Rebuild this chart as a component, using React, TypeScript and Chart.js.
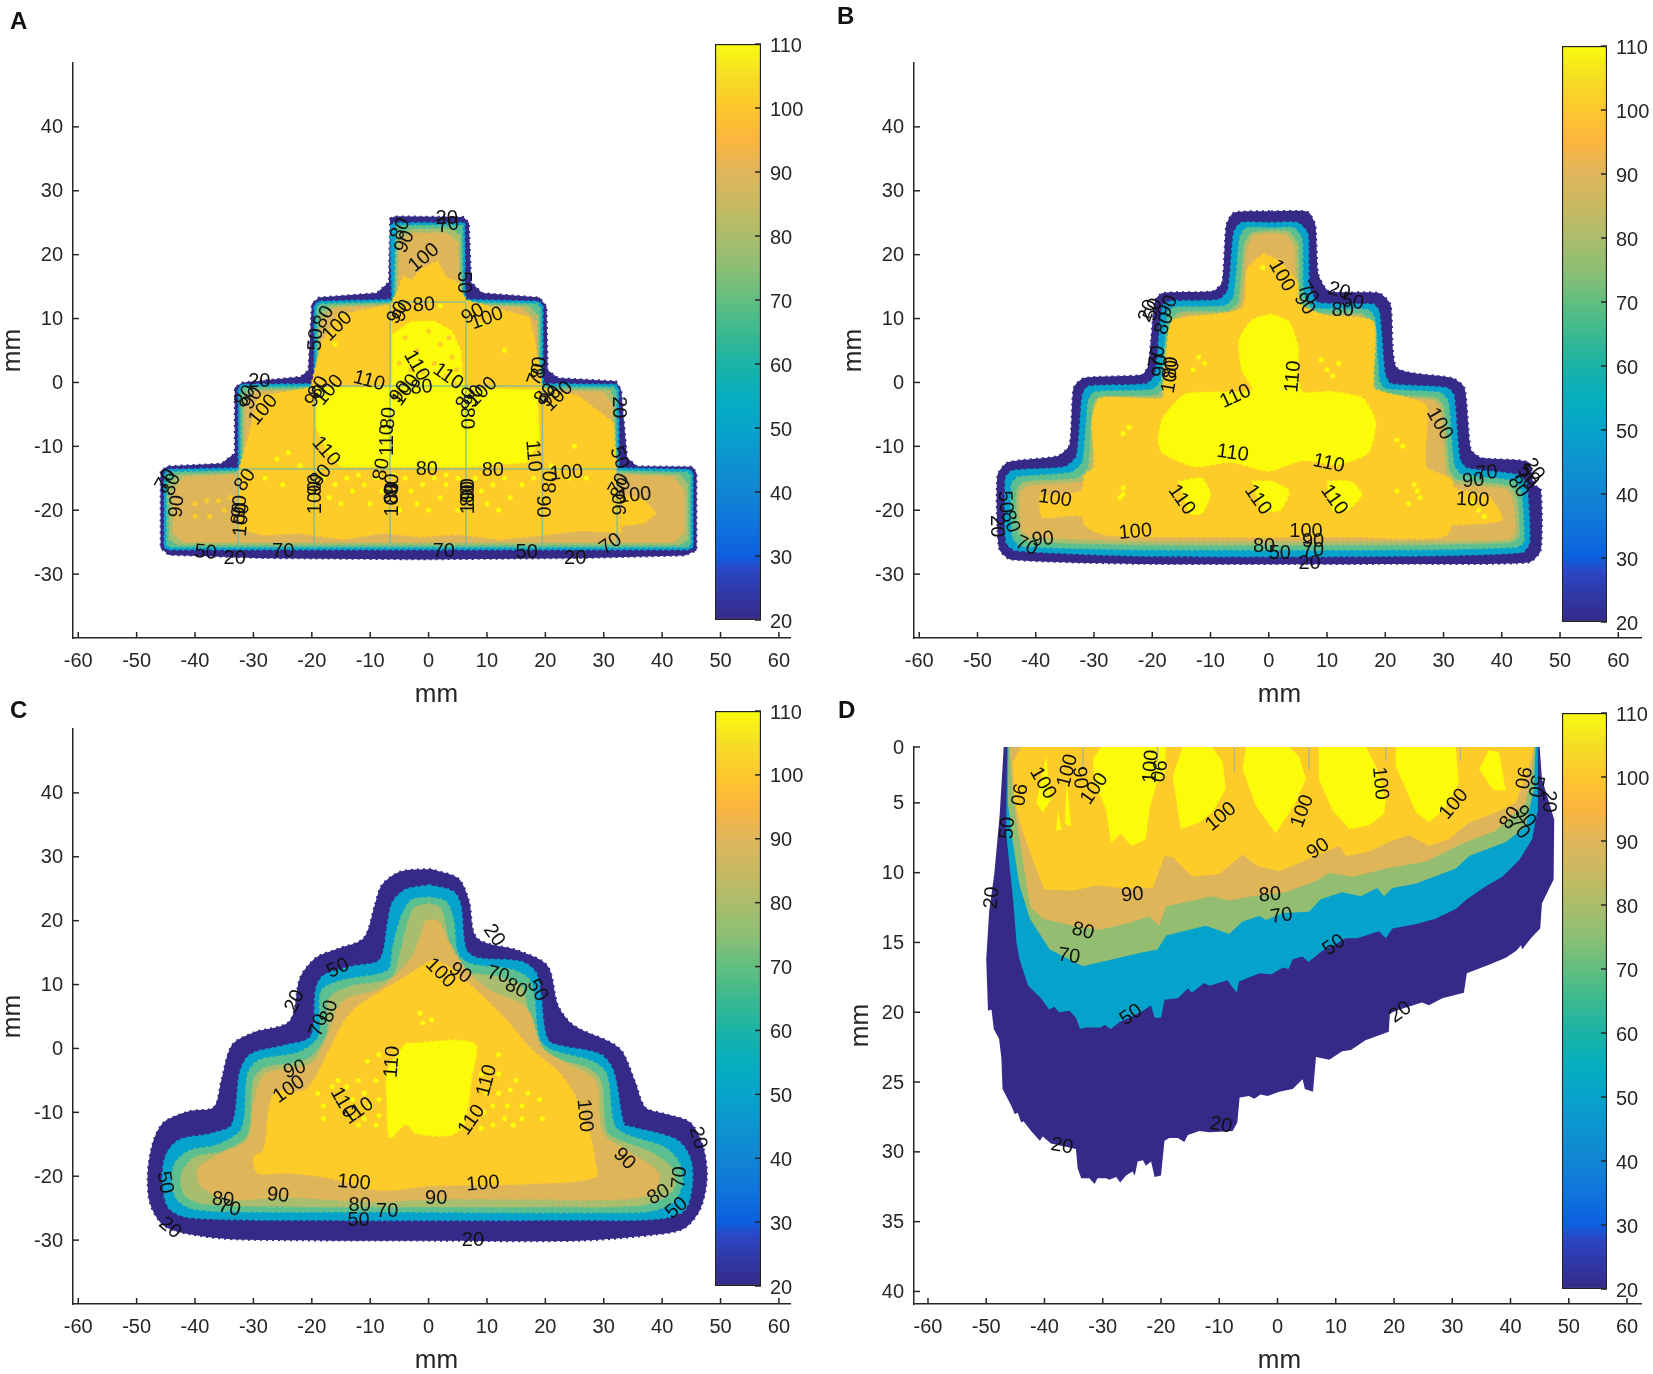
import React, { useEffect, useRef } from "react";
import { Chart, registerables } from "chart.js";

Chart.register(...registerables);

type Pts = number[][];
type Lab = [string, number, number, number];

const FONT = "'Liberation Sans', Arial, sans-serif";
const INK = "#262626";

const xTicks = [-60, -50, -40, -30, -20, -10, 0, 10, 20, 30, 40, 50, 60];
const yTicksABC = [-30, -20, -10, 0, 10, 20, 30, 40];
const yTicksD = [1, 5, 10, 15, 20, 25, 30, 35, 40];
const colourTicks = [20, 30, 40, 50, 60, 70, 80, 90, 100, 110];

const colourValues = [20, 25, 28, 30, 35, 40, 45, 50, 55, 60, 65, 70, 75, 80, 85, 90, 95, 100, 105, 110];
const colourStops = ["#352a87", "#2f3bac", "#2a48c8", "#0d5fdf", "#0f74dc", "#1185d3", "#0d94cf", "#06a4ca", "#06aebf", "#1ab3a6", "#3bb990", "#62be7f", "#8cbf74", "#abbd6b", "#c8b961", "#dfb65c", "#fbb53e", "#fdc72d", "#f5de23", "#f9fb0e"];

const DARK = "#352a87";
const CYAN = "#05a3cc";
const GREEN = "#5cbf90";
const OLIVE = "#a9bd6e";
const TAN = "#dfb55a";
const GOLD = "#fdcc29";
const BRIGHT = "#fbfb0a";
const SAGE = "#93bd70";

/* ---------- panel A ---------- */
const A20: Pts = [[-6.6,25.7],[-5.7,26],[6,25.9],[6.9,25],[7.3,15.7],[9.2,14],[19,13.3],[20.2,11.9],[20.4,1.9],[22.2,.7],[32.1,.2],[33,-1.2],[34,-11.8],[35.7,-13.1],[45.2,-13.2],[45.9,-14.2],[45.9,-26.3],[43.9,-27.1],[25.8,-27.5],[-1.2,-27.7],[-28.3,-27.5],[-44.5,-27],[-45.9,-25.9],[-45.9,-13.9],[-44.7,-13.1],[-35.5,-12.7],[-33.2,-11.1],[-33.2,-.8],[-31.9,0],[-21.9,.9],[-20.6,1.9],[-20,12.3],[-18.8,13.3],[-8.9,14],[-6.8,15.7]];
const A50: Pts = [[-6,25],[6.2,25],[6.3,13],[18.8,12.7],[19.6,12],[19.6,-.2],[32,-.3],[32.6,-1],[32.6,-13.4],[44.6,-13.6],[45.3,-14.2],[45.3,-25.7],[44.6,-26.2],[-44.6,-26.2],[-45.3,-25.7],[-45.3,-14.2],[-44.6,-13.6],[-32.6,-13.4],[-32.6,-1],[-32,-.3],[-19.6,-.2],[-19.6,12],[-18.8,12.7],[-6.3,13],[-6.6,24.4]];
const A70: Pts = [[-5.6,24.6],[5.8,24.6],[5.9,12.6],[18.6,12.3],[19.2,11.6],[19.2,-.6],[31.8,-.7],[32.2,-1.4],[32.2,-13.8],[44.4,-14],[44.9,-14.6],[44.9,-25.3],[44.3,-25.8],[-44.3,-25.8],[-44.9,-25.3],[-44.9,-14.6],[-44.4,-14],[-32.2,-13.8],[-32.2,-1.4],[-31.8,-.7],[-19.2,-.6],[-19.2,11.6],[-18.6,12.3],[-5.9,12.6]];
const A80: Pts = [[-5.4,23],[-3,24],[4,24],[5.4,23],[5.6,12.3],[17,12],[18.8,10.5],[18.9,-1],[31,-1.1],[31.8,-2.5],[31.9,-14.1],[43,-14.4],[44.4,-16],[44.5,-24.5],[43,-25.4],[-43,-25.4],[-44.4,-24.5],[-44.5,-16],[-43,-14.4],[-31.9,-14.1],[-31.8,-2.5],[-31,-1.1],[-18.9,-1],[-18.8,10.5],[-17,12],[-5.6,12.3]];
const A90: Pts = [[-5,22],[-3,23.4],[3,23.4],[5,22],[5.3,12],[16,11.7],[18.5,9.5],[18.6,-1.3],[30,-1.4],[31.4,-3.5],[31.6,-14.4],[42,-14.8],[43.8,-17],[43.8,-23.5],[42,-25],[-42,-25],[-43.8,-23.5],[-43.8,-17],[-42,-14.8],[-31.6,-14.4],[-31.4,-3.5],[-30,-1.4],[-18.6,-1.3],[-18.5,9.5],[-16,11.7],[-5.3,12]];
const A100: Pts = [[-4.4,16.7],[-3,16],[-1.2,17.8],[1.5,19],[3,16.5],[5.1,15.7],[6.4,12.9],[17.3,10.2],[18.4,5.4],[19.5,-.8],[25.8,-2.2],[31.7,-6.3],[32.2,-13.2],[32.6,-18],[33,-23.5],[26,-23.2],[19.5,-23.9],[12.3,-24.6],[5,-23.8],[-1.2,-24.2],[-8,-23.6],[-14.7,-24.6],[-22,-23.6],[-28.3,-23.9],[-32.6,-22.9],[-32.6,-13.9],[-31,-9.1],[-29.2,-2.2],[-20.2,-.8],[-18.4,6],[-15.6,10.5],[-6.6,12.2],[-5.3,14.3]];
const A100right: Pts = [[33,-17.5],[37,-18.5],[39,-20.5],[37,-22],[33,-22.5]];
const A110: Pts = [[-19.2,-.8],[-6.4,-.8],[-6.2,1],[-6.2,7.5],[-3,9.5],[1,9.6],[4,8],[5.5,5],[5.8,1],[6.3,-.8],[18.6,-1.2],[19,-9],[17,-12.5],[8,-13.2],[-15,-13.2],[-17,-11.5],[-19.2,-7]];
const AspotsBright: Pts = [[-18,-15],[-16,-16],[-14,-15],[-13,-17],[-11,-16],[-9,-15],[-8,-17],[-4,-15],[-3,-17],[-1,-16],[1,-15],[2,-18],[3,-16],[5,-15],[8,-15],[9,-17],[11,-16],[13,-15],[14,-18],[16,-16],[18,-15],[-15,-19],[-10,-19],[-5,-20],[0,-20],[5,-20],[10,-19],[-12,-14.5],[-6,-14.5],[3,-14.5],[-2,-19],[7,-18],[12,-20],[-17,-18],[-28,-15],[-25,-16],[27,-15],[24,-15],[-26,-12],[-24,-11],[25,-10],[-16,6],[-5,12],[2,12],[9,9],[13,5],[-22,-13],[21,-13]];
const AspotsGold: Pts = [[-4,7],[-2,5],[2,6],[4,4],[-3,2],[3,1],[0,8],[-5,3],[1,3],[3.5,7],[4.8,2],[-1,1.5],[-4.5,-.2],[4.5,-.2],[-40,-19],[-38,-18.5],[-36,-18.5],[-35,-20],[-37.5,-21],[-34,-18],[-33.5,-21],[-40,-21]];
const Aseams: Pts[] = [[[-32.6,-13.5],[-32.6,-26]],[[-19.6,-.5],[-19.6,-26]],[[-6.6,12.6],[-6.6,-26]],[[6.4,12.6],[6.4,-26]],[[19.5,-.5],[19.5,-26]],[[32.3,-13.5],[32.3,-26]],[[-6.6,12.6],[6.4,12.6]],[[-19.6,-.55],[19.5,-.55]],[[-32.6,-13.55],[32.3,-13.55]]];
const Alabels: Lab[] = [["20",3.1,25.7,0],["70",3.3,24.6,-10],["80",-4.8,24,-65],["90",-4.1,22,-65],["100",-.8,19.5,-40],["50",6,15.7,90],["90",-5.3,10.9,-60],["90",-4.4,11.2,-60],["80",-.8,12.1,-5],["90",7.6,10.7,-30],["100",10,10,-20],["80",-17.9,10.2,-60],["100",-15.6,8.8,-45],["50",-19.3,6.7,-85],["80",-18.8,-.8,-60],["90",-19.3,-2.2,-50],["100",-17,-1.2,-50],["20",-29,.2,0],["80",-31.4,-2.2,-55],["90",-30.2,-2.5,-55],["100",-28.3,-4.3,-50],["110",-10.2,.2,15],["110",-2.1,2.6,60],["110",3.3,.9,35],["80",-1.2,-.8,-5],["90",-4.8,-1.5,-55],["100",-3.9,-1.2,-55],["80",6.5,-2.5,-60],["90",7.8,-2.2,-60],["100",9.2,-1.5,-45],["80",6.5,-5.6,90],["80",-6.8,-5.6,-85],["110",-7.1,-9,-90],["110",-17.6,-10.8,50],["80",-.3,-13.6,0],["80",11,-13.8,0],["110",17.9,-11.5,85],["100",23.6,-14.2,-5],["80",20.9,-15.6,-85],["90",19.5,-19.4,90],["50",32.6,-11.8,70],["20",32.6,-3.9,90],["70",18.6,1.2,-70],["80",19,2.3,-85],["80",20,-1.9,-45],["90",20.9,-2.2,-45],["100",22.2,-2.2,-45],["80",-31.4,-15.3,-55],["90",-32.3,-19.4,-85],["80",-32.4,-20.5,-85],["100",-32,-21.5,-85],["80",-18.4,-14.6,-50],["90",-19.3,-16,-90],["100",-19.3,-18,-90],["80",-8,-13.6,-80],["90",-6.2,-16,-85],["80",-6.2,-17.3,-85],["100",-6.2,-18.4,-90],["90",6.9,-16.7,-90],["80",6.9,-17.7,-90],["100",6.9,-18,-90],["90",-43.1,-19.4,-85],["80",-44,-16,-70],["70",-45,-15.3,-60],["50",-38.2,-26.6,5],["20",-33.2,-27.5,0],["70",-24.9,-26.4,0],["70",2.6,-26.4,0],["50",16.8,-26.6,0],["20",25.1,-27.5,0],["70",31.2,-25.3,-35],["100",35.3,-17.7,-5],["90",32.9,-19.1,-90],["80",33,-16.7,-60],["70",32.6,-16,-60]];

/* ---------- panel B ---------- */
const B20: Pts = [[.4,26.8],[6.7,26.7],[8,24.6],[8.5,17],[10.3,14.3],[18.9,14],[20.9,12.2],[22,2.3],[31.5,.7],[33.6,-.8],[34.7,-10.5],[36.5,-11.8],[44.6,-12.5],[45.5,-16],[46.7,-16.7],[46.7,-26.3],[44.6,-28.2],[23.4,-28.4],[-21.8,-28.4],[-44.4,-27.7],[-46.3,-26],[-46.6,-14.6],[-44.8,-12.5],[-36.2,-11.5],[-34.2,-9.8],[-33.5,-.8],[-31.7,.7],[-21.8,1.2],[-20.7,2.6],[-19.5,12.9],[-18.2,14],[-9.6,14.3],[-8,15.7],[-7.3,24.6],[-6,26.6]];
const B50: Pts = [[.4,25],[5,25],[6.7,23.3],[7,15],[8.5,12.5],[18,12.2],[19,11],[20,1.2],[21,-.2],[30.5,-.8],[31.8,-2],[32.8,-12],[34,-13.4],[43,-14.5],[44.3,-16],[44.8,-25],[43.5,-26.6],[23,-27.2],[-21,-27.2],[-43.5,-26.3],[-45.1,-25],[-45.2,-15],[-44,-13.8],[-35,-13.2],[-33,-11.5],[-32,-2],[-31,-.6],[-21,-.2],[-19.5,1.2],[-18.3,12],[-17,12.7],[-8.5,13],[-7,14.5],[-6,23.5],[-4.8,25]];
const B70: Pts = [[.4,24.2],[4.3,24.2],[5.7,22.5],[6,14],[7.5,11.7],[17,11.4],[18.2,10],[19,.3],[20,-1],[29.5,-1.6],[30.8,-3],[31.8,-12.8],[33,-14.4],[42,-15.4],[43.3,-17],[43.8,-24.8],[42.5,-25.8],[23,-26.2],[-21,-26.2],[-42.5,-25.6],[-44,-24.2],[-44.2,-16],[-43,-14.8],[-34,-14.1],[-32,-12.5],[-31,-3],[-30,-1.5],[-20,-1.1],[-18.5,.3],[-17.3,11],[-16,11.8],[-7.5,12],[-6,13.5],[-5,22.6],[-3.8,24.2]];
const B80: Pts = [[.4,23.8],[3.5,23.6],[5,21.5],[5.3,13.5],[6.8,11],[16,10.7],[17.4,9.2],[18.2,-.4],[19.2,-1.8],[28.7,-2.4],[30,-3.8],[31,-13.5],[32.2,-15.2],[41.2,-16.2],[42.5,-17.8],[43,-24],[41.5,-25],[23,-25.4],[-21,-25.4],[-41.5,-24.8],[-43,-23.4],[-43.3,-17],[-42,-15.6],[-33,-15],[-31,-13.4],[-30.2,-3.8],[-29.2,-2.3],[-19.2,-2],[-17.7,-.6],[-16.5,10],[-15.2,11],[-7,11.2],[-5.2,12.6],[-4.2,21.6],[-3,23.4]];
const B90: Pts = [[.4,23.4],[3,23],[4.4,21],[4.8,13],[6,10.6],[15.5,10.3],[17,8.6],[17.8,-.8],[19,-2.2],[28.2,-2.8],[29.5,-4.2],[30.4,-14],[31.5,-15.8],[40.5,-16.6],[41.8,-18.2],[42.3,-23.6],[41,-24.6],[23,-24.8],[-21,-24.8],[-41,-24.2],[-42.4,-23],[-42.7,-17.4],[-41.3,-16.2],[-32.4,-15.6],[-30.4,-14],[-29.6,-4.2],[-28.6,-2.9],[-18.6,-2.5],[-17,-1],[-16,9.4],[-14.5,10.5],[-6.5,10.8],[-4.7,12.2],[-3.7,21],[-2.5,23]];
const B100: Pts = [[-1,20.2],[-3.7,17.8],[-4.6,11.6],[-16.4,9.8],[-17.3,7.4],[-18.2,-.8],[-18.2,-2.5],[-29,-2.5],[-30.4,-6.3],[-29.9,-13.2],[-31.7,-14.6],[-31.7,-22.2],[-28,-23.9],[-12.7,-24.2],[14.4,-24.2],[30.6,-23.9],[31.5,-15.3],[27,-13.2],[27,-3.6],[19.8,-1.5],[18,-.8],[18,9.5],[9.8,10.5],[5.3,12.3],[4.9,15.7],[1.7,19.1]];
const B100left: Pts = [[-39.4,-17.7],[-33.5,-17.3],[-31,-17],[-31,-21],[-33.5,-20.8],[-38.9,-21.1]];
const B100right: Pts = [[31,-16],[32.4,-16.7],[37.9,-18],[40.1,-21.5],[35,-22.2],[31,-22]];
const B110: Pts = [[.4,10.7],[3.5,9.5],[5.1,5.4],[4.9,1.9],[5.8,-1.5],[10.7,-1.4],[16.2,-2.5],[18.4,-6.3],[17,-11.1],[11.7,-12.9],[5.8,-12.2],[-.1,-13.9],[-6.4,-12.5],[-12.7,-13.2],[-18.2,-11.1],[-19,-9.1],[-18.2,-5.6],[-14.5,-1.9],[-10,-1.5],[-2.8,-1.2],[-4.6,1.9],[-5.1,6.7],[-2.8,9.8]];
const B110a: Pts = [[-15.5,-15.5],[-11.5,-15],[-10,-17.5],[-11.5,-20.5],[-13.5,-20.5]];
const B110b: Pts = [[-2.8,-15.5],[.6,-15.5],[3.5,-17],[2,-20],[-1,-20]];
const B110c: Pts = [[10,-15.5],[14,-15.5],[16,-17.5],[13.5,-20],[11,-20]];
const BspotsBright: Pts = [[-25,-16.5],[-25,-17.5],[-25.5,-18],[22,-17],[25,-16],[25.5,-17],[26,-18],[24,-19],[35,-19],[36,-20],[37,-21],[12,3],[10,2],[11,1],[9,3.5],[-12,4],[-11,3],[-13,2],[22,-9],[23,-10],[-25,-8],[-24,-7],[-1,18]];
const Blabels: Lab[] = [["100",2.2,16.7,60],["70",6.7,14,55],["90",6.1,12.3,55],["20",12.1,14.3,15],["50",14.4,12.6,10],["80",12.7,11.2,0],["20",-20.7,11.2,-70],["50",-19.8,11.4,-70],["90",-17.3,11.9,-65],["80",-17.9,9.2,-70],["70",-19.1,4,-80],["90",-18.6,2.6,-85],["80",-16.8,2.3,-85],["100",-16.8,.9,-80],["110",4.2,.9,-85],["110",-5.7,-2.2,-25],["100",29.3,-6.5,60],["110",-6.2,-11.1,8],["110",10.3,-12.7,12],["70",37.4,-14.2,-5],["90",35.1,-15.4,-5],["100",35,-18.4,3],["20",45.5,-13.6,55],["50",44.6,-14.6,45],["70",44,-15.2,50],["80",42.8,-16.3,55],["100",-36.7,-18.2,8],["110",-15,-18.4,55],["110",-1.9,-18.4,55],["110",11.2,-18.4,55],["50",-45.3,-18.7,85],["80",-44.4,-21.8,70],["20",-46.8,-22.5,90],["90",-38.8,-24.6,-5],["70",-41.6,-25.6,25],["100",-22.9,-23.4,-5],["100",6.4,-23.4,0],["90",7.6,-24.9,0],["70",7.6,-26.3,0],["80",-.8,-25.7,0],["50",1.9,-26.8,0],["20",7,-28.4,0]];

/* ---------- panel C ---------- */
const C20: Pts = [[.4,28.1],[-4.8,27.7],[-8,25.6],[-9.2,22.5],[-11.1,17.3],[-15.6,15.6],[-19.3,14.2],[-22,11.1],[-23.8,4.3],[-30,2.5],[-33.7,.5],[-35.5,-5],[-36.8,-9.2],[-40.9,-9.8],[-45.4,-11.6],[-47.2,-14.7],[-48.1,-19.5],[-47.7,-24.3],[-45.4,-27.7],[-40.9,-29.1],[-32.8,-29.9],[.6,-30.1],[25.8,-30.1],[39.4,-29.1],[43.9,-28.1],[46.6,-25],[47.7,-20.2],[47,-15.3],[44.8,-11.6],[40.3,-10.2],[37.1,-9.2],[35.3,-5],[32.6,.1],[24.9,3.6],[22.2,6.7],[20.4,12.9],[15.5,15.3],[8.3,17.3],[6.9,23.2],[5.1,26.6]];
const C50: Pts = [[.1,25.6],[-3.9,24.9],[-6.2,22.9],[-7,19.8],[-8.4,13.9],[-12.9,12.9],[-17.9,11.5],[-19.3,9.4],[-20.2,1.9],[-24.7,.5],[-30.5,-.9],[-32.3,-3.6],[-33.7,-11.9],[-37.3,-13.3],[-42.7,-14.3],[-45,-16.7],[-45.6,-20.9],[-44.5,-25],[-40.9,-26.5],[-19.3,-26.9],[25.8,-26.9],[39.4,-26.7],[43.9,-25.3],[45.2,-20.9],[44.8,-17.1],[42.5,-14.3],[34.9,-12.3],[33.5,-11.9],[31.7,-3.6],[29.4,-.9],[21.1,.8],[20,2.5],[18.6,11.5],[15.9,13.6],[8.3,14.2],[6.4,15.6],[5.5,22.5],[4.2,24.6]];
const C70: Pts = [[.1,23.7],[-3,23.2],[-4.8,20.4],[-6.2,15.6],[-7,12.2],[-14.7,10.7],[-18.4,9],[-18.8,2],[-22,-.5],[-29,-1.8],[-31,-4],[-32,-12.5],[-36,-15],[-41,-16],[-43.5,-18],[-44,-21],[-43,-23.8],[-40,-25.2],[-30,-25.6],[-10,-25.6],[10,-25.7],[30,-25.7],[38,-25.5],[42,-24],[43.5,-21],[43,-18],[40.5,-15.5],[34,-13.5],[31.8,-12],[30.5,-4],[28,-2],[21,-.2],[19,1.5],[17.5,10.5],[14,12.4],[7,13.3],[5,15],[4.3,20],[3,23]];
const C80: Pts = [[.1,22.7],[-2.5,22],[-3.8,19],[-5,14.5],[-6.5,11],[-13.5,9.7],[-17,7.8],[-17.5,2],[-21,-1.8],[-28,-3],[-30,-5],[-31,-13.5],[-35,-16],[-40,-17],[-42,-19],[-42.5,-21],[-41.5,-23.2],[-38,-24.4],[-20,-24.8],[0,-24.8],[20,-24.8],[36,-24.6],[41,-23],[42.3,-21],[41.5,-18.5],[38,-16.2],[33,-14.5],[30.5,-13],[29.5,-5],[27,-3],[20,-1.2],[18,1],[16,9.5],[12,11.2],[6.5,12],[4,14],[3,19],[2,22]];
const C90: Pts = [[-.5,20],[-3,14.2],[-8.4,9.4],[-14.7,7.4],[-17.4,1.9],[-20,-2.3],[-28,-4],[-30,-9],[-31,-14.3],[-35.5,-16.4],[-39.5,-18.8],[-39,-21.5],[-34.6,-23.6],[-24.6,-23.3],[-10,-24],[.6,-23.6],[16.8,-23.6],[33,-23.6],[38.5,-22.6],[39.4,-19.5],[34,-16],[29.9,-13.3],[28.5,-5],[23.6,-2.3],[19.5,.1],[16.8,6.3],[10,9.4],[6,12.9],[3.3,17],[1.5,20]];
const C100: Pts = [[.6,13.9],[-4.8,10.8],[-12,6.7],[-14.7,3.9],[-17,-.2],[-21,-6.4],[-26.5,-7.1],[-28.3,-16],[-30,-17],[-29.2,-19.5],[-24.7,-19.5],[-17.4,-20.2],[-8.4,-22.2],[.6,-21.5],[16.8,-21.2],[28.5,-20.2],[28.5,-17.5],[27.6,-13.3],[24.9,-7.1],[22.2,-3.6],[17.7,-.2],[13.2,4.6],[7.8,9.4],[3.3,12.9]];
const C110: Pts = [[-3.9,.8],[7.8,.8],[7.3,-5],[6,-11.9],[3.7,-13.6],[-2.1,-13.3],[-3.9,-11.9],[-6.6,-14],[-7.1,-8.5],[-7.1,-3.6],[-4.8,-.2]];
const CspotsBright: Pts = [[-1.5,5.5],[.5,4.5],[-1,4],[-19,-7],[-18,-9],[-18,-11],[-16.5,-6],[-15.5,-5],[-10.5,-2],[-8.5,-1],[12,-1],[12,-4],[15,-5],[16,-9],[17,-7],[16,-11],[19,-8],[19.5,-11],[13,-11],[-14,-6],[-13,-8],[-12,-5],[-11,-7],[-10,-9],[-9,-5],[-8.5,-8],[-13,-11],[-11,-11],[-9,-12],[-8.5,-10.5],[-12,-12],[9,-4],[10,-7],[9.5,-10],[11,-9],[12,-7],[13.5,-9],[14,-6.5],[11,-12],[9,-12.5],[14.5,-12]];
const Clabels: Lab[] = [["20",11.2,17.7,55],["50",-15.5,12.5,-25],["100",2,11.8,45],["90",5.4,11.8,35],["70",11.9,11.5,15],["80",15,9.4,25],["50",18.6,9.1,60],["20",-22.9,7.4,-65],["80",-17,5.8,-75],["70",-18.8,3.6,-70],["110",-6.2,-2.1,-85],["90",-22.9,-3.3,-20],["100",-23.9,-6.4,-35],["110",10,-5,-75],["110",-14.7,-8.5,60],["110",-12,-9.8,-35],["100",26.7,-10.5,85],["110",7.4,-11.2,-55],["20",46.1,-14,75],["90",33.5,-17.3,45],["50",-45.2,-21,80],["70",43,-20.2,-85],["100",-12.8,-21,5],["100",9.3,-21.2,-5],["80",39.4,-22.9,-30],["90",-25.8,-23,5],["90",1.3,-23.5,0],["80",-35.2,-23.7,5],["70",-34.1,-25,15],["80",-11.8,-24.6,0],["70",-7.1,-25.5,0],["50",-12,-26.9,0],["50",42.5,-25,-40],["20",-44.3,-28.1,40],["20",7.6,-30.1,0]];

/* ---------- panel D ---------- */
const D20: Pts = [[-47,1],[-47.7,5.9],[-48.6,10],[-49.5,12.8],[-50,16.2],[-49.7,19.9],[-49.1,19.8],[-48.7,21.2],[-47.8,21.9],[-47.4,23.3],[-47.2,25.5],[-45.7,26.7],[-45.1,27.3],[-44.6,27.2],[-44,27.9],[-43.6,27.8],[-42.3,28.5],[-40.8,29.2],[-40.3,28.9],[-38.9,29.4],[-34.6,29.8],[-34.3,31.2],[-33.7,31.9],[-32.3,31.9],[-31.4,32.3],[-30.9,31.9],[-29.4,31.9],[-28.9,32],[-27.7,31.8],[-27,32.2],[-26,31.7],[-24.9,31.4],[-24.5,31.7],[-24,30.7],[-23.1,30.6],[-22.6,31],[-21.7,30.7],[-21.1,31.8],[-20,31.7],[-19.4,29.2],[-18.6,29],[-17.1,29],[-16,29.3],[-15.4,28.8],[-13.4,28.5],[-11.7,28.6],[-7.7,28.5],[-6.9,27.9],[-6.5,26.1],[-4.9,26],[-4,26.2],[-2.9,25.9],[-1.7,26],[.3,25.7],[2.6,25.5],[4.3,24.8],[4.7,25.5],[6.1,25.7],[6.6,23.2],[8.9,23.4],[11.1,22.8],[12.6,22.7],[15.1,22],[19.1,21.4],[19.3,20.1],[20.3,19.9],[24.8,19.3],[26,19.5],[28.3,19],[32,18.6],[32.5,17.2],[36.3,16.6],[39.2,16.1],[41,15.6],[41.8,15.2],[42,15.5],[43.5,14.7],[45.1,14],[45.4,12.2],[47.4,10.5],[47.5,6.2],[45.4,3.3],[45,1]];
const D50: Pts = [[-46.4,1],[-46.6,7.1],[-45.4,11.9],[-44.8,15],[-44.3,16.2],[-42.8,18.1],[-40.6,19],[-39.2,19.8],[-38.3,19.6],[-37.5,20],[-35.7,19.9],[-34.6,20.4],[-33.9,21.2],[-32.9,21.1],[-31.6,21.1],[-30.3,21.1],[-29.7,20.9],[-28.6,21.2],[-27.1,20.7],[-25.4,20.4],[-23.1,19.9],[-21.7,19.5],[-21.1,20.4],[-20,20.4],[-19.4,19.1],[-17.1,19],[-15.4,18.3],[-14.7,18.6],[-12.6,17.9],[-11.7,18.1],[-8.6,17.7],[-7,18.6],[-6.6,17.8],[-3.1,17.2],[-1.1,17.3],[.9,16.8],[1.9,16.9],[2.6,16.2],[4.3,16],[5.3,16.4],[7.7,15.6],[9.7,15.2],[11.7,14.7],[13.7,14.7],[17.4,14.2],[18.6,14.7],[19.7,14],[23.7,13.7],[27.1,13.3],[30.6,12.6],[32.5,11.9],[35.7,11],[38.6,10.3],[41.5,9.1],[43.7,7.6],[44.6,5.7],[44.7,1]];
const D70: Pts = [[-46.2,1],[-46.3,5],[-45.4,7.9],[-44.3,10.9],[-42.5,13.3],[-39.1,15.5],[-33.4,16.7],[-27.2,16.1],[-23.1,15.7],[-20.6,15.5],[-19.1,14.5],[-12.3,13.8],[-8.3,14.4],[-6,13.5],[-3.1,13.1],[-2,13.4],[.9,12.9],[5.4,12.8],[7.4,11.9],[11.1,11.4],[14.3,11.7],[17.1,11.1],[18.3,11.7],[19.7,11.1],[23.7,10.8],[30.6,9.7],[32.9,8.8],[39.2,7.8],[42.6,6.7],[44,4],[44.3,1]];
const D80: Pts = [[-46,1],[-45.5,4],[-44.5,7.1],[-44,8.3],[-42.5,12.4],[-40.3,13.3],[-35.1,13.8],[-30.5,14.1],[-25.5,13.6],[-22,13.1],[-20.3,13.8],[-19.1,12.4],[-11.2,11.7],[-8.3,12],[-4.3,11.7],[1.4,11.4],[6.6,10.6],[8.9,10],[12.9,10.3],[18.7,9.7],[25.5,9.2],[32.3,7.8],[37.5,7],[42.6,5],[43.6,3],[44.1,1]];
const D90: Pts = [[-44,1],[-45.4,2.1],[-45.2,4.8],[-43.7,7.1],[-42,9.1],[-40,11.2],[-35.1,11.3],[-31.1,10.9],[-27.1,11.1],[-21.4,11.1],[-19.4,8.8],[-18,8.9],[-14.6,10.3],[-10,10.1],[-6,8.7],[-3.6,9.5],[.3,9.9],[4.9,9.1],[10.6,8.1],[11.8,8.8],[15.7,8.5],[19.1,7.8],[22.6,7.3],[26,8.1],[29.4,7.6],[32.9,6.4],[37.5,5.7],[40.9,5],[43.2,2.4],[44,1]];
const D100a: Pts = [[-30.3,1],[-31.7,1.9],[-31.4,3.6],[-29.4,5.5],[-28.6,7.9],[-26.9,7.2],[-25.1,8.1],[-22.6,7.6],[-22,5.5],[-20.9,3.8],[-19.2,2.7],[-19.2,1]];
const D100b: Pts = [[-16.3,1],[-18,3.1],[-16.6,6.9],[-13.4,6.4],[-11.2,5.7],[-8.9,4],[-9.4,2.1],[-11.2,1]];
const D100c: Pts = [[-5.4,1],[-6,2.6],[-3.7,5.2],[-.3,7.2],[3.1,5],[4.9,3.3],[3.7,1.7],[2,1]];
const D100d: Pts = [[7.1,1],[7.1,3.3],[9.4,5.5],[12.3,6.9],[15.7,6.6],[18.3,5.8],[18.6,4.8],[17.1,2.6],[15.2,1]];
const D100e: Pts = [[20.3,1],[20.3,2.4],[23.8,5.7],[26,6.4],[28.6,5.5],[31.1,3.6],[30.6,1]];
const D100f: Pts = [[36.3,1.2],[38,1.4],[39.2,4.1],[37.1,4.1],[34.6,2.6]];
const D100g: Pts = [[-39.7,1.6],[-38.9,4.8],[-40.3,5.7],[-41.4,5]];
const D100h: Pts = [[-36.2,3.3],[-35.4,6.7],[-36.5,6.5]];
const D100i: Pts = [[-37.7,5.5],[-37.1,6.9],[-38,7]];
const Dnotches: Pts[] = [[[-33.4,1],[-33.4,2.6]],[[-20.6,1],[-20.6,2]],[[-7.4,1],[-7.4,2.8]],[[5.4,1],[5.4,2.6]],[[18.6,1],[18.6,2]],[[31.4,1],[31.4,2]]];
const Dlabels: Lab[] = [["100",-40.3,3.6,60],["100",-36,2.7,-75],["90",-34,3.2,85],["100",-31.4,4,-55],["90",-44.6,4.4,100],["50",-46.3,6.8,-85],["100",-21.7,2.4,-85],["90",-20.6,2.7,100],["100",-9.7,6,-40],["100",4.3,5.6,-70],["90",7,8.3,-35],["90",-24.9,11.6,-5],["80",-1.3,11.6,-5],["80",-33.4,14.2,15],["70",-35.8,16,8],["70",.7,13.1,-8],["20",-49,11.8,-85],["100",17.6,3.6,85],["100",30.3,5.1,-50],["90",42,3.2,100],["50",44.3,3.8,100],["20",46.6,4.9,90],["80",40,6.1,-55],["90",42.5,6,50],["70",41.4,6.8,50],["50",9.7,15.2,-35],["20",21.1,20,-35],["50",-25.1,20.2,-35],["20",-9.7,28.1,10],["20",-37,29.6,10]];

type PanelDef = {
  letter: string; letterX: number; letterY: number;
  left: number; top: number; w: number; h: number;
  areaL: number; areaR: number; areaT: number; areaB: number;
  xMin: number; xMax: number; yMin: number; yMax: number; reverse?: boolean;
  yTicks: number[]; yTitlePad: number; xTitleShift: number;
  tension: number; rough: boolean;
  layers: [Pts, string][]; bright?: Pts; gold?: Pts; seams?: Pts[]; seamColor?: string; labels: Lab[];
  barL: number; barR: number; barT: number; barB: number;
};

const panels: PanelDef[] = [
  { letter: "A", letterX: 10, letterY: 7, left: 0, top: 0, w: 826, h: 708, areaL: 73, areaR: 790, areaT: 63, areaB: 638, xMin: -60.9, xMax: 61.9, yMin: -40, yMax: 50, yTicks: yTicksABC, yTitlePad: 0, xTitleShift: 5, tension: 0, rough: true,
    layers: [[A110, BRIGHT], [A100, GOLD], [A100right, GOLD], [A90, TAN], [A80, OLIVE], [A70, GREEN], [A50, CYAN], [A20, DARK]], bright: AspotsBright, gold: AspotsGold, seams: Aseams, seamColor: "rgba(110,180,165,0.75)", labels: Alabels,
    barL: 715, barR: 761, barT: 44, barB: 620 },
  { letter: "B", letterX: 837, letterY: 2, left: 826, top: 0, w: 827, h: 708, areaL: 88, areaR: 815, areaT: 63, areaB: 638, xMin: -60.9, xMax: 63.9, yMin: -40, yMax: 50, yTicks: yTicksABC, yTitlePad: 15, xTitleShift: 2, tension: 0.2, rough: true,
    layers: [[B110, BRIGHT], [B110a, BRIGHT], [B110b, BRIGHT], [B110c, BRIGHT], [B100, GOLD], [B100left, GOLD], [B100right, GOLD], [B90, TAN], [B80, OLIVE], [B70, GREEN], [B50, CYAN], [B20, DARK]], bright: BspotsBright, labels: Blabels,
    barL: 736, barR: 781, barT: 46, barB: 622 },
  { letter: "C", letterX: 10, letterY: 696, left: 0, top: 684, w: 826, h: 690, areaL: 73, areaR: 790, areaT: 45, areaB: 620, xMin: -60.9, xMax: 61.9, yMin: -40, yMax: 50, yTicks: yTicksABC, yTitlePad: 0, xTitleShift: 5, tension: 0.3, rough: true,
    layers: [[C110, BRIGHT], [C100, GOLD], [C90, TAN], [C80, OLIVE], [C70, GREEN], [C50, CYAN], [C20, DARK]], bright: CspotsBright, labels: Clabels,
    barL: 715, barR: 761, barT: 27, barB: 602 },
  { letter: "D", letterX: 838, letterY: 696, left: 826, top: 684, w: 827, h: 690, areaL: 88, areaR: 815, areaT: 63, areaB: 620, xMin: -62.4, xMax: 62.4, yMin: 1, yMax: 40.9, reverse: true, yTicks: yTicksD, yTitlePad: 22, xTitleShift: 2, tension: 0, rough: false,
    layers: [[D100a, BRIGHT], [D100b, BRIGHT], [D100c, BRIGHT], [D100d, BRIGHT], [D100e, BRIGHT], [D100f, BRIGHT], [D100g, BRIGHT], [D100h, BRIGHT], [D100i, BRIGHT], [D90, GOLD], [D80, TAN], [D70, SAGE], [D50, CYAN], [D20, DARK]], seams: Dnotches, seamColor: "#b8b38e", labels: Dlabels,
    barL: 736, barR: 781, barT: 29, barB: 605 },
];

const toXY = (p: Pts) => p.map(([x, y]) => ({ x, y }));

const inwardTicks = {
  id: "inwardTicks",
  afterDraw(chart: any) {
    const { ctx } = chart;
    const len = 6;
    ctx.save();
    ctx.strokeStyle = INK;
    ctx.lineWidth = 1.5;
    for (const s of Object.values(chart.scales) as any[]) {
      if (!s.options.display) continue;
      for (const t of s.ticks) {
        const p = s.getPixelForValue(t.value);
        ctx.beginPath();
        if (s.axis === "x") { ctx.moveTo(p, s.top); ctx.lineTo(p, s.top - len); }
        else if (s.position === "right") { ctx.moveTo(s.left, p); ctx.lineTo(s.left - len, p); }
        else { ctx.moveTo(s.right, p); ctx.lineTo(s.right + len, p); }
        ctx.stroke();
      }
    }
    ctx.restore();
  },
};

const labelPlugin = (labels: Lab[], shift: number) => ({
  id: "contourLabels",
  afterDatasetsDraw(chart: any) {
    const { ctx, scales } = chart;
    ctx.save();
    ctx.font = `20px ${FONT}`;
    ctx.fillStyle = "#111";
    ctx.textAlign = "center";
    ctx.textBaseline = "middle";
    for (const [text, x, y, angle] of labels) {
      ctx.save();
      ctx.translate(scales.x.getPixelForValue(x), scales.y.getPixelForValue(y));
      ctx.rotate((angle * Math.PI) / 180);
      ctx.fillText(text, 0, 0);
      ctx.restore();
    }
    ctx.font = `26px ${FONT}`;
    ctx.fillStyle = INK;
    ctx.fillText("mm", (scales.x.left + scales.x.right) / 2 + shift, scales.x.bottom - 13);
    ctx.restore();
  },
});

function makeMain(canvas: HTMLCanvasElement, p: PanelDef) {
  const datasets: any[] = [];
  (p.seams ?? []).forEach((s) => datasets.push({ data: toXY(s), showLine: true, borderColor: p.seamColor, borderWidth: 1.5, pointRadius: 0, fill: false }));
  if (p.gold) datasets.push({ data: toXY(p.gold), showLine: false, pointRadius: 2.5, backgroundColor: GOLD, borderWidth: 0 });
  if (p.bright) datasets.push({ data: toXY(p.bright), showLine: false, pointRadius: 2.5, backgroundColor: BRIGHT, borderWidth: 0 });
  p.layers.forEach(([pts, color]) => datasets.push({
    data: toXY(p.rough ? [...pts, pts[0]] : pts), showLine: true, fill: "shape", backgroundColor: color, borderColor: color,
    borderWidth: p.rough ? 1.8 : 0, borderDash: p.rough ? [2, 4] : [], pointRadius: 0, tension: p.tension,
  }));
  const tickFont = { family: FONT, size: 20 };
  const titleFont = { family: FONT, size: 26, lineHeight: 1 };
  return new Chart(canvas, {
    type: "scatter",
    data: { datasets },
    plugins: [inwardTicks, labelPlugin(p.labels, p.xTitleShift)],
    options: {
      responsive: false, animation: false, events: [],
      layout: { padding: { left: 0, top: p.areaT, right: p.w - p.areaR, bottom: 0 } },
      plugins: { legend: { display: false }, tooltip: { enabled: false }, title: { display: false } },
      scales: {
        x: {
          type: "linear", position: "bottom", min: p.xMin, max: p.xMax,
          grid: { display: false, drawTicks: false },
          border: { display: true, color: INK, width: 1.5 },
          ticks: { color: INK, font: tickFont, padding: 11, maxRotation: 0, autoSkip: false, callback: (v: any) => String(v) },
          afterBuildTicks: (s: any) => { s.ticks = xTicks.map((value) => ({ value })); },
          afterFit: (s: any) => { s.height = p.h - p.areaB; },
        },
        y: {
          type: "linear", position: "left", min: p.yMin, max: p.yMax, reverse: !!p.reverse,
          grid: { display: false, drawTicks: false },
          border: { display: true, color: INK, width: 1.5 },
          ticks: { color: INK, font: tickFont, padding: 10, labelOffset: 1, autoSkip: false, callback: (v: any) => (p.reverse && v === 1 ? "0" : String(v)) },
          title: { display: true, text: "mm", color: INK, font: titleFont, padding: { top: p.yTitlePad, bottom: 0 } },
          afterBuildTicks: (s: any) => { s.ticks = p.yTicks.map((value) => ({ value })); },
          afterFit: (s: any) => { s.width = p.areaL; },
        },
      },
    } as any,
  });
}

function makeBar(canvas: HTMLCanvasElement) {
  return new Chart(canvas, {
    type: "bar",
    data: {
      labels: ["colour scale"],
      datasets: [{
        data: [[colourValues[0], colourValues[colourValues.length - 1]]],
        barPercentage: 1, categoryPercentage: 1,
        borderColor: "#222", borderWidth: 1.5, borderSkipped: false,
        backgroundColor: (c: any) => {
          const a = c.chart.chartArea;
          if (!a) return colourStops[0];
          const g = c.chart.ctx.createLinearGradient(0, a.bottom, 0, a.top);
          const lo = colourValues[0], hi = colourValues[colourValues.length - 1];
          colourValues.forEach((v, i) => g.addColorStop((v - lo) / (hi - lo), colourStops[i]));
          return g;
        },
      }] as any,
    },
    plugins: [inwardTicks],
    options: {
      responsive: false, animation: false, events: [],
      layout: { padding: { left: 2, top: 14, bottom: 14, right: 0 } },
      plugins: { legend: { display: false }, tooltip: { enabled: false } },
      scales: {
        x: { display: false },
        y: {
          position: "right", min: 20, max: 110,
          grid: { display: false, drawTicks: false },
          border: { display: false },
          ticks: { color: INK, font: { family: FONT, size: 20 }, padding: 9, labelOffset: 2, autoSkip: false, callback: (v: any) => String(v) },
          afterBuildTicks: (s: any) => { s.ticks = colourTicks.map((value) => ({ value })); },
          afterFit: (s: any) => { s.width = 48; s.paddingTop = 0; s.paddingBottom = 0; },
        },
      },
    } as any,
  });
}

function Panel({ p }: { p: PanelDef }) {
  const mainRef = useRef<HTMLCanvasElement>(null);
  const barRef = useRef<HTMLCanvasElement>(null);
  useEffect(() => {
    const a = makeMain(mainRef.current!, p);
    const b = makeBar(barRef.current!);
    return () => { a.destroy(); b.destroy(); };
  }, []);
  const barW = p.barR - p.barL;
  const barH = p.barB - p.barT;
  return (
    <>
      <canvas ref={mainRef} width={p.w} height={p.h} style={{ position: "absolute", left: p.left, top: p.top, width: p.w, height: p.h }} />
      <canvas ref={barRef} width={barW + 50} height={barH + 28} style={{ position: "absolute", left: p.left + p.barL - 2, top: p.top + p.barT - 14, width: barW + 50, height: barH + 28 }} />
      <div style={{ position: "absolute", left: p.letterX, top: p.letterY, font: `bold 24px ${FONT}`, color: "#111" }}>{p.letter}</div>
    </>
  );
}

export default function App() {
  return (
    <div style={{ position: "absolute", left: 0, top: 0, width: 1653, height: 1374, background: "#fff", overflow: "hidden" }}>
      {panels.map((p) => <Panel key={p.letter} p={p} />)}
    </div>
  );
}
